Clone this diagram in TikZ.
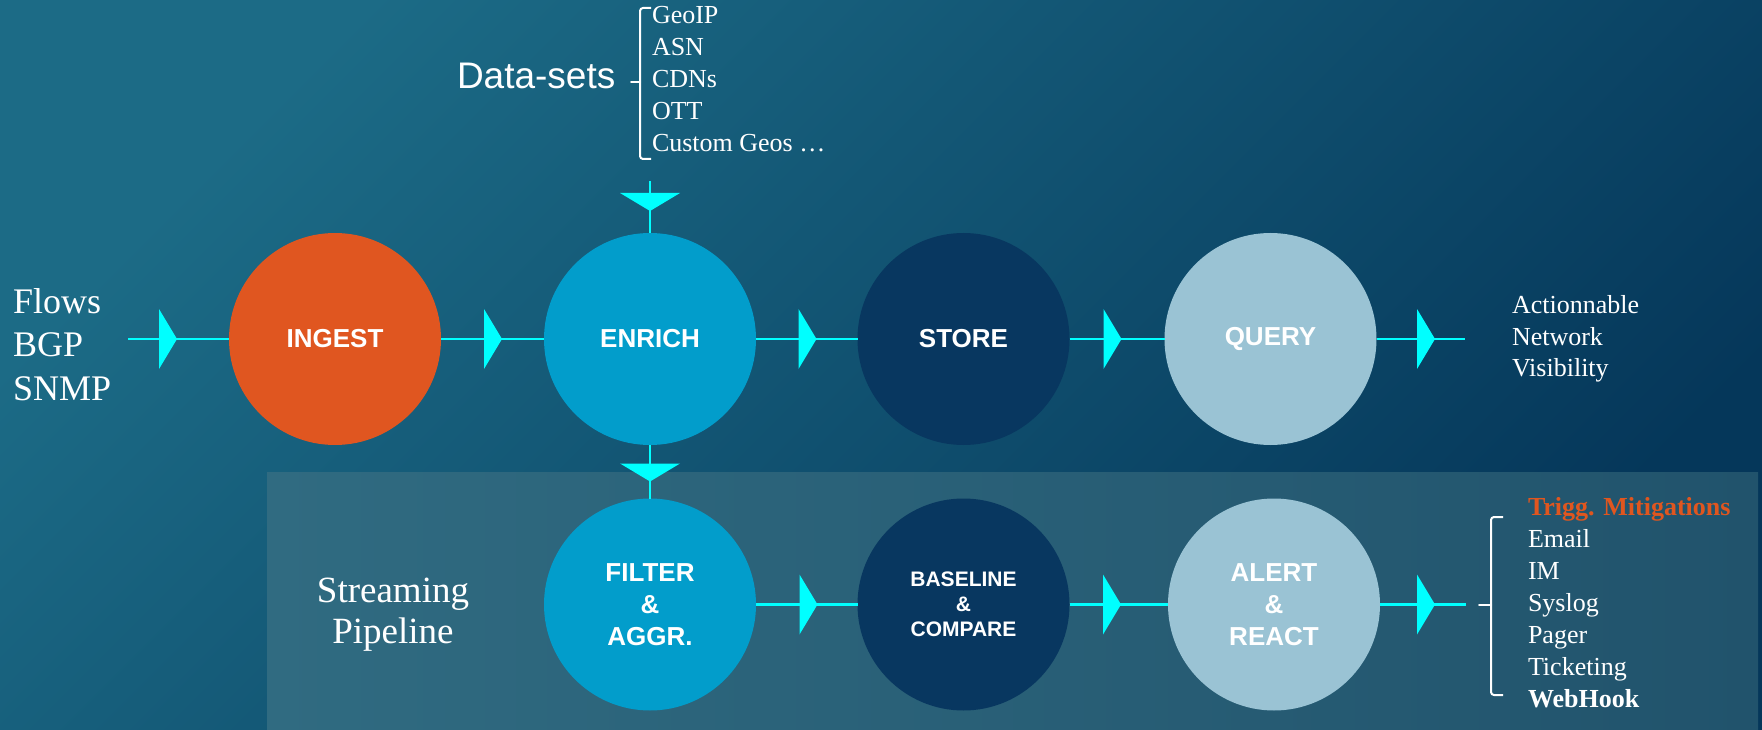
\documentclass[tikz,border=0pt]{standalone}
\usepackage{fontspec}
\setmainfont{Liberation Serif}
\setsansfont{Liberation Sans}
\usetikzlibrary{decorations.markings}

\definecolor{bgA}{HTML}{1C6B86}
\definecolor{bgB}{HTML}{05375A}
\definecolor{boxA}{HTML}{306B81}
\definecolor{boxB}{HTML}{21536C}
\definecolor{ingestc}{HTML}{E05620}
\definecolor{enrichc}{HTML}{029DCB}
\definecolor{storec}{HTML}{083760}
\definecolor{queryc}{HTML}{9AC3D4}
\definecolor{flowc}{HTML}{00FFFF}
\definecolor{trigc}{HTML}{E0561F}

\begin{document}
\begin{tikzpicture}[x=1pt,y=-1pt,
  stage/.style={circle, minimum size=212pt, inner sep=0pt, outer sep=0pt,
    text=white, align=center, font=\sffamily\bfseries\fontsize{26}{32}\selectfont},
  smallstage/.style={stage, font=\sffamily\bfseries\fontsize{21}{25}\selectfont},
  flow/.style={draw=flowc, line width=2.7pt},
  tipat/.style={postaction={decorate}, decoration={markings,
    mark=at position #1 with {\fill[flowc] (0pt,0pt) -- (-18pt,30pt) -- (-18pt,-30pt) -- cycle;}}},
  label/.style={text=white, inner sep=0pt, outer sep=0pt, anchor=base west},
  listtext/.style={label, font=\fontsize{26}{32}\selectfont},
  bigtext/.style={label, font=\fontsize{36}{44}\selectfont},
  brace/.style={draw=white, line width=2pt, rounded corners=3pt}
]
\useasboundingbox (0,0) rectangle (1762,730);

% background and streaming panel
\shade[top color=bgA, bottom color=bgB, shading angle=45] (0,0) rectangle (1762,730);
\shade[left color=boxA, right color=boxB] (267,472) rectangle (1758,730);

% stages
\node[stage, fill=ingestc] (ingest) at (335,339) {INGEST};
\node[stage, fill=enrichc] (enrich) at (650,339) {ENRICH};
\node[stage, fill=storec]  (store)  at (963.5,339) {STORE};
\node[stage, fill=queryc]  (query)  at (1270.5,339) {QUERY};

\node[stage, fill=enrichc] (filter) at (650,604.5) {FILTER\\\&\\AGGR.};
\node[smallstage, fill=storec] (baseline) at (963.5,604.5) {BASELINE\\\&\\COMPARE};
\node[stage, fill=queryc] (alert) at (1274,604.5) {ALERT\\\&\\REACT};

% connectors
\coordinate (src) at (128,339);
\coordinate (vis) at (1465,339);
\coordinate (dsin) at (650,181);
\coordinate (react) at (1466,604.5);

\draw[flow, tipat=-52pt] (src) -- (ingest);
\draw[flow, tipat=-42pt] (ingest) -- (enrich);
\draw[flow, tipat=-41pt] (enrich) -- (store);
\draw[flow, tipat=-43pt] (store) -- (query);
\draw[flow, tipat=-30pt] (query) -- (vis);
\draw[flow, tipat=30pt] (dsin) -- (enrich);
\draw[flow, tipat=-17pt] (enrich) -- (filter);
\draw[flow, tipat=-40pt] (filter) -- (baseline);
\draw[flow, tipat=-47pt] (baseline) -- (alert);
\draw[flow, tipat=-31pt] (alert) -- (react);

% inputs
\node[bigtext] (flows) at (13,313) {Flows};
\node[bigtext] (bgp)   at (13,356) {BGP};
\node[bigtext] (snmp)  at (13,400) {SNMP};

% data-sets
\node[label, font=\sffamily\fontsize{37}{44}\selectfont] (datasets) at (457,89) {Data-sets};
\draw[brace] (651,8) -- (640,8) -- (640,159) -- (651,159);
\draw[draw=white, line width=2pt, line cap=round] (631,82) -- (640,82);
\foreach \t [count=\i] in {GeoIP, ASN, CDNs, OTT, Custom Geos …}
  \node[listtext] (ds\i) at (652,{24+32*(\i-1)}) {\t};

% output
\node[listtext] (act) at (1512,313) {Actionnable};
\node[listtext] (net) at (1512,345) {Network};
\node[listtext] (vsb) at (1512,376) {Visibility};

% streaming pipeline
\node[text=white, inner sep=0pt, anchor=base, font=\fontsize{37}{44}\selectfont] (stream) at (393,602) {Streaming};
\node[text=white, inner sep=0pt, anchor=base, font=\fontsize{37}{44}\selectfont] (pipe) at (393,643) {Pipeline};

% reactions
\draw[brace] (1503,517) -- (1491,517) -- (1491,695) -- (1503,695);
\draw[draw=white, line width=2pt, line cap=round] (1479,605) -- (1491,605);
\node[listtext, text=trigc, font=\bfseries\fontsize{26}{32}\selectfont] (trig) at (1528,515) {Trigg. Mitigations};
\foreach \t [count=\i] in {Email, IM, Syslog, Pager, Ticketing}
  \node[listtext] (re\i) at (1528,{515+32*\i}) {\t};
\node[listtext, font=\bfseries\fontsize{26}{32}\selectfont] (hook) at (1528,707) {WebHook};

\end{tikzpicture}
\end{document}
